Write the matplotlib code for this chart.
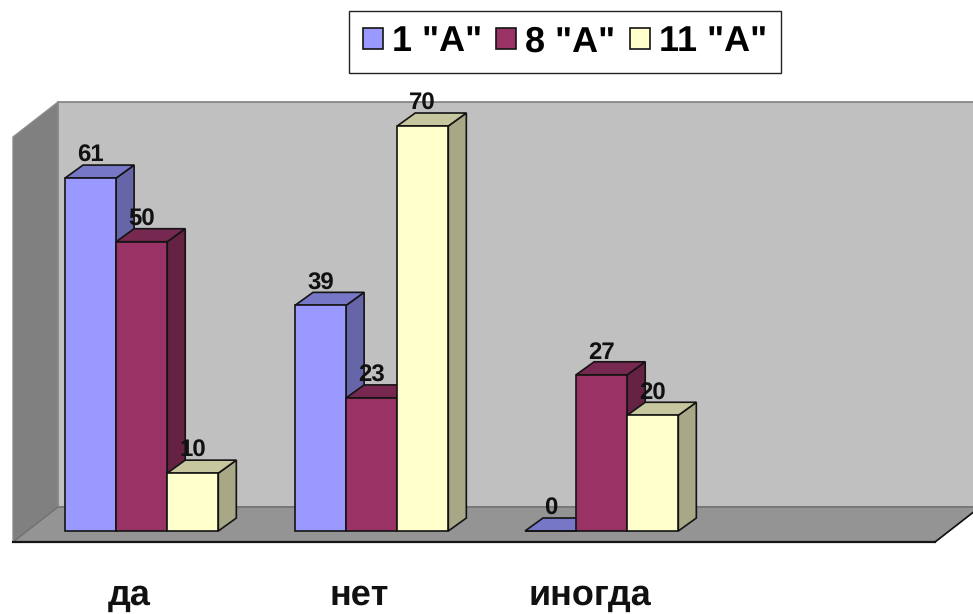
import matplotlib
matplotlib.use("Agg")
import matplotlib.pyplot as plt
from matplotlib.patches import Polygon
import matplotlib.colors as mc

categories = ["да", "нет", "иногда"]
series_names = ['1 "A"', '8 "A"', '11 "A"']
values_1a = [61, 39, 0]
values_8a = [50, 23, 27]
values_11a = [10, 70, 20]
colors = ["#9999FF", "#993366", "#FFFFCC"]

W, H = 973, 614
PX_X = 230 / 4.5          # pixels per bar width
PX_Y = 405 / 70           # pixels per value unit
X0, Y0 = 65, 531          # pixel position of first bar / value zero
AX_BOTTOM = 542
DX, DY = 18 / PX_X, 13 / PX_Y   # bar depth
FDX, FDY = 45 / PX_X, 35 / PX_Y # floor depth

plt.rcParams["font.family"] = ["Liberation Sans", "DejaVu Sans"]
plt.rcParams["text.hinting"] = "none"
plt.rcParams["text.hinting_factor"] = 1
fig = plt.figure(figsize=(W / 100, H / 100), dpi=100, facecolor="white")
ax = fig.add_axes([0, (H - AX_BOTTOM) / H, 1, AX_BOTTOM / H])
ax.set_xlim(-X0 / PX_X, (W - X0) / PX_X)
ax.set_ylim(-(AX_BOTTOM - Y0) / PX_Y, Y0 / PX_Y)
ax.patch.set_alpha(0)
for s in ax.spines.values():
    s.set_visible(False)
ax.set_yticks([])


def shade(color, f):
    r, g, b = mc.to_rgb(color)
    return (r * f, g * f, b * f)


# frame of the 3D chart, in chart units
fx0 = -52 / PX_X                 # front-left corner
fy0 = -(AX_BOTTOM - Y0) / PX_Y
fx1 = (935 - X0) / PX_X          # front-right corner
wall_top = fy0 + (AX_BOTTOM - 102) / PX_Y
front_top = wall_top - FDY
bx0, bx1 = fx0 + FDX, fx1 + FDX
by0 = fy0 + FDY

ax.add_patch(Polygon([(bx0, by0), (bx1, by0), (bx1, wall_top), (bx0, wall_top)],
                     fc="#C0C0C0", ec="#808080", lw=1.2, zorder=1, clip_on=False))
ax.add_patch(Polygon([(fx0, fy0), (bx0, by0), (bx0, wall_top), (fx0, front_top)],
                     fc="#808080", ec="#8C8C8C", lw=1.0, zorder=1, clip_on=False))
ax.add_patch(Polygon([(fx0, fy0), (fx1, fy0), (bx1, by0), (bx0, by0)],
                     fc="#949494", ec="#707070", lw=1.0, zorder=1.1, clip_on=False))
ax.plot([fx0, fx1], [fy0, fy0], color="#151515", lw=1.6, zorder=1.2, clip_on=False)
ax.plot([fx1, bx1], [fy0, by0], color="#151515", lw=1.2, zorder=1.2, clip_on=False)

group_step = 4.5
edge = dict(edgecolor="#141414", linewidth=1.2)
all_values = [values_1a, values_8a, values_11a]
z = 2.0
handles = []
for g in range(len(categories)):
    for j, vals in enumerate(all_values):
        v = vals[g]
        x = g * group_step + j
        c = colors[j]
        ax.add_patch(Polygon([(x + 1, 0), (x + 1 + DX, DY), (x + 1 + DX, v + DY), (x + 1, v)],
                             fc=shade(c, 0.66), zorder=z, **edge))
        ax.add_patch(Polygon([(x, v), (x + DX, v + DY), (x + 1 + DX, v + DY), (x + 1, v)],
                             fc=shade(c, 0.78), zorder=z + .01, **edge))
        b = ax.bar(x, v, width=1, align="edge", color=c, zorder=z + .02, **edge)
        if g == 0:
            handles.append(b[0])
        ax.text(x + 0.5, v + DY + 3 / PX_Y, str(v), ha="center", va="baseline",
                fontsize=17, fontweight="bold", color="#111111", zorder=20)
        z += 0.1

ax.set_xticks([g * group_step + 1.5 - 12 / PX_X for g in range(len(categories))])
ax.set_xticklabels(categories, fontsize=26, fontweight="bold", color="#111111")
ax.tick_params(axis="x", length=0, pad=26.5)

leg = ax.legend(handles, series_names, ncols=3, loc="center",
                bbox_to_anchor=(565 / W, 1 - 42 / AX_BOTTOM),
                prop={"weight": "bold", "size": 26},
                frameon=True, fancybox=False, framealpha=1, edgecolor="#222222",
                handlelength=0.55, handleheight=0.55, handletextpad=0.25,
                columnspacing=0.4, borderpad=0.38, borderaxespad=0)
leg.get_frame().set_linewidth(1.0)
leg.set_zorder(30)

fig.savefig("out.png", dpi=100)
